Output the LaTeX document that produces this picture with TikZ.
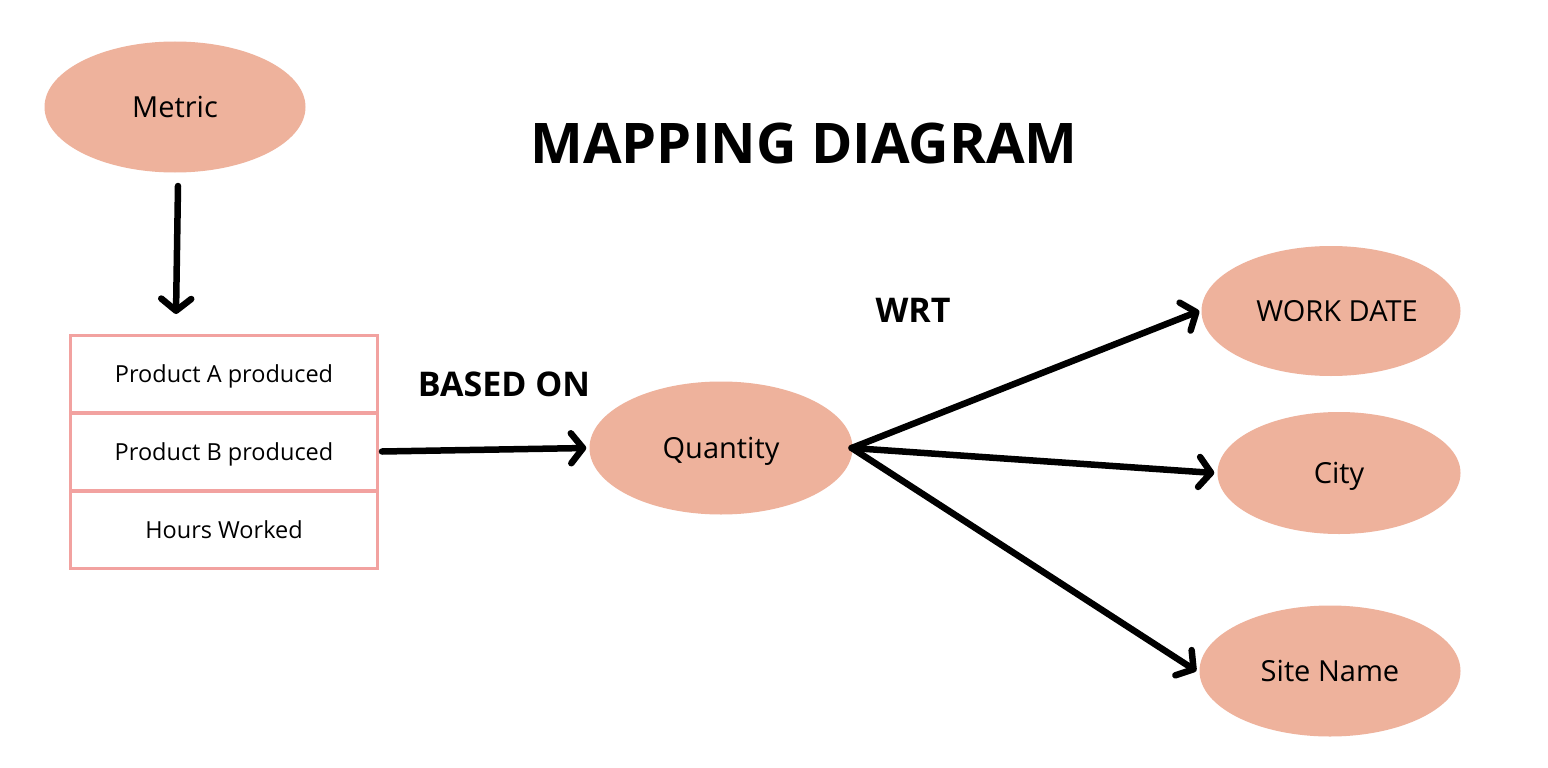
\documentclass[tikz,border=0pt]{standalone}
\usepackage{fontspec}
\setmainfont{Open Sans}
\usetikzlibrary{shapes.geometric,arrows.meta}
\definecolor{blob}{HTML}{EEB29C}
\definecolor{pinkline}{HTML}{F2A2A0}
\tikzset{
  blobnode/.style={ellipse, fill=blob, draw=none, inner sep=0pt, text height=21pt, text depth=0pt, font=\fontsize{29}{33}\selectfont},
  rowbox/.style={rectangle, draw=pinkline, line width=3pt, minimum width=307pt, minimum height=77pt, inner sep=0pt, text height=17pt, text depth=0pt, font=\fontsize{23.5}{27}\selectfont},
  conn/.style={line width=6.5pt, line cap=round, -{Straight Barb[length=12pt,width=30pt,line cap=round,line join=round]}},
  bigtitle/.style={font=\fontsize{56}{60}\bfseries\selectfont},
  lbl/.style={font=\fontsize{34}{38}\bfseries\selectfont}
}
\begin{document}
\begin{tikzpicture}[x=1pt,y=-1pt]
\useasboundingbox[fill=white] (0,0) rectangle (1548,768);
\node[blobnode, minimum width=261pt, minimum height=131pt] (m) at (175,107) {Metric};
\node[bigtitle] (t) at (804,143) {MAPPING DIAGRAM};
\node[rowbox] (r1) at (224,374) {Product A produced};
\node[rowbox] (r2) at (224,451.5) {Product B produced};
\node[rowbox] (r3) at (224,529.5) {Hours Worked};
\node[lbl] (b) at (504,384) {BASED ON};
\node[lbl] (w) at (913,310) {WRT};
\node[blobnode, minimum width=263pt, minimum height=133pt] (q) at (721,448) {Quantity};
\node[blobnode, minimum width=259pt, minimum height=130pt] (wd) at (1331,311) {\hspace*{12pt}WORK DATE};
\node[blobnode, minimum width=243pt, minimum height=122pt] (c) at (1339,473) {City};
\node[blobnode, minimum width=261pt, minimum height=131pt] (s) at (1330,671) {Site Name};
\coordinate (ms) at (178,186);
\coordinate (me) at (176,314);
\draw[conn] (ms) -- (me);
\draw[conn] ([xshift=3pt]r2.east) -- ([xshift=-3pt]q.west);
\draw[conn] ([xshift=-1pt]q.east) -- ([xshift=-2pt]wd.west);
\draw[conn] ([xshift=-1pt]q.east) -- ([xshift=-3pt]c.west);
\draw[conn] ([xshift=-1pt]q.east) -- ([xshift=-3pt]s.west);
\end{tikzpicture}
\end{document}
